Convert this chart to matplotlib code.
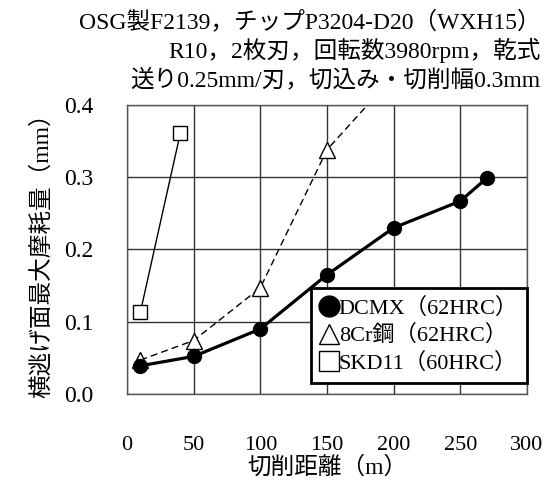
import matplotlib
matplotlib.use("Agg")
import matplotlib.pyplot as plt
from matplotlib.lines import Line2D

plt.rcParams['font.family'] = ['Liberation Serif', 'Noto Sans CJK JP']

# cutting distance (m) and max flank wear (mm)
dcmx_x = [10, 50, 100, 150, 200, 250, 270]
dcmx_y = [0.039, 0.052, 0.090, 0.165, 0.230, 0.267, 0.299]
cr8_x = [10, 50, 100, 150, 200]
cr8_y = [0.047, 0.074, 0.147, 0.338, 0.44]
skd_x = [10, 40]
skd_y = [0.113, 0.361]

labels = ["DCMX（62HRC）", "8Cr鋼（62HRC）", "SKD11（60HRC）"]
title_lines = ["OSG製F2139，チップP3204-D20（WXH15）",
               "R10，2枚刃，回転数3980rpm，乾式",
               "送り0.25mm/刃，切込み・切削幅0.3mm"]

fig = plt.figure(figsize=(5.56, 4.83), dpi=100)
ax = fig.add_axes([0.2284, 0.1843, 0.7194, 0.5983])

ax.plot(skd_x, skd_y, color='black', lw=1.0, marker='s', ms=10,
        mfc='white', mec='black', mew=1.0, zorder=3)
ax.plot(cr8_x, cr8_y, color='black', lw=1.0, ls=(0, (5, 3)), marker='^', ms=11,
        mfc='white', mec='black', mew=1.0, zorder=3)
ax.plot(dcmx_x, dcmx_y, color='black', lw=2.3, marker='o', ms=10,
        mfc='black', mec='black', zorder=4)

ax.set_xlim(0, 300)
ax.set_ylim(0, 0.4)
ax.set_xticks(range(0, 301, 50))
ax.set_yticks([0.0, 0.1, 0.2, 0.3, 0.4])
ax.set_yticklabels([f"{v:.1f}" for v in [0.0, 0.1, 0.2, 0.3, 0.4]])
ax.grid(True, color='#333333', lw=1.0)
ax.set_axisbelow(True)
for s in ax.spines.values():
    s.set_color('#555555')
    s.set_linewidth(1.0)
ax.tick_params(axis='x', length=0, labelsize=16, pad=30)
ax.tick_params(axis='y', length=0, labelsize=17, pad=24)

ax.set_xlabel("切削距離（m）", fontsize=17, labelpad=1)
ax.set_ylabel("横逃げ面最大摩耗量（mm）", fontsize=17, labelpad=8)

title_y = [0.954, 0.896, 0.834]
for line, ty in zip(title_lines, title_y):
    fig.text(0.972, ty, line, ha='right', va='center', fontsize=17)

handles = [
    Line2D([], [], ls='none', marker='o', ms=15, mfc='black', mec='black'),
    Line2D([], [], ls='none', marker='^', ms=15, mfc='white', mec='black', mew=1.0),
    Line2D([], [], ls='none', marker='s', ms=14, mfc='white', mec='black', mew=1.0),
]
leg = ax.legend(handles, labels, loc='lower right', fontsize=16, frameon=True,
                fancybox=False, handlelength=0.8, handletextpad=0.05,
                borderpad=0.4, labelspacing=0.3, borderaxespad=0,
                bbox_to_anchor=(1.0, 0.038))
leg.get_frame().set_edgecolor('black')
leg.get_frame().set_linewidth(2.0)
leg.get_frame().set_alpha(1.0)

fig.savefig("out.png", dpi=100)
